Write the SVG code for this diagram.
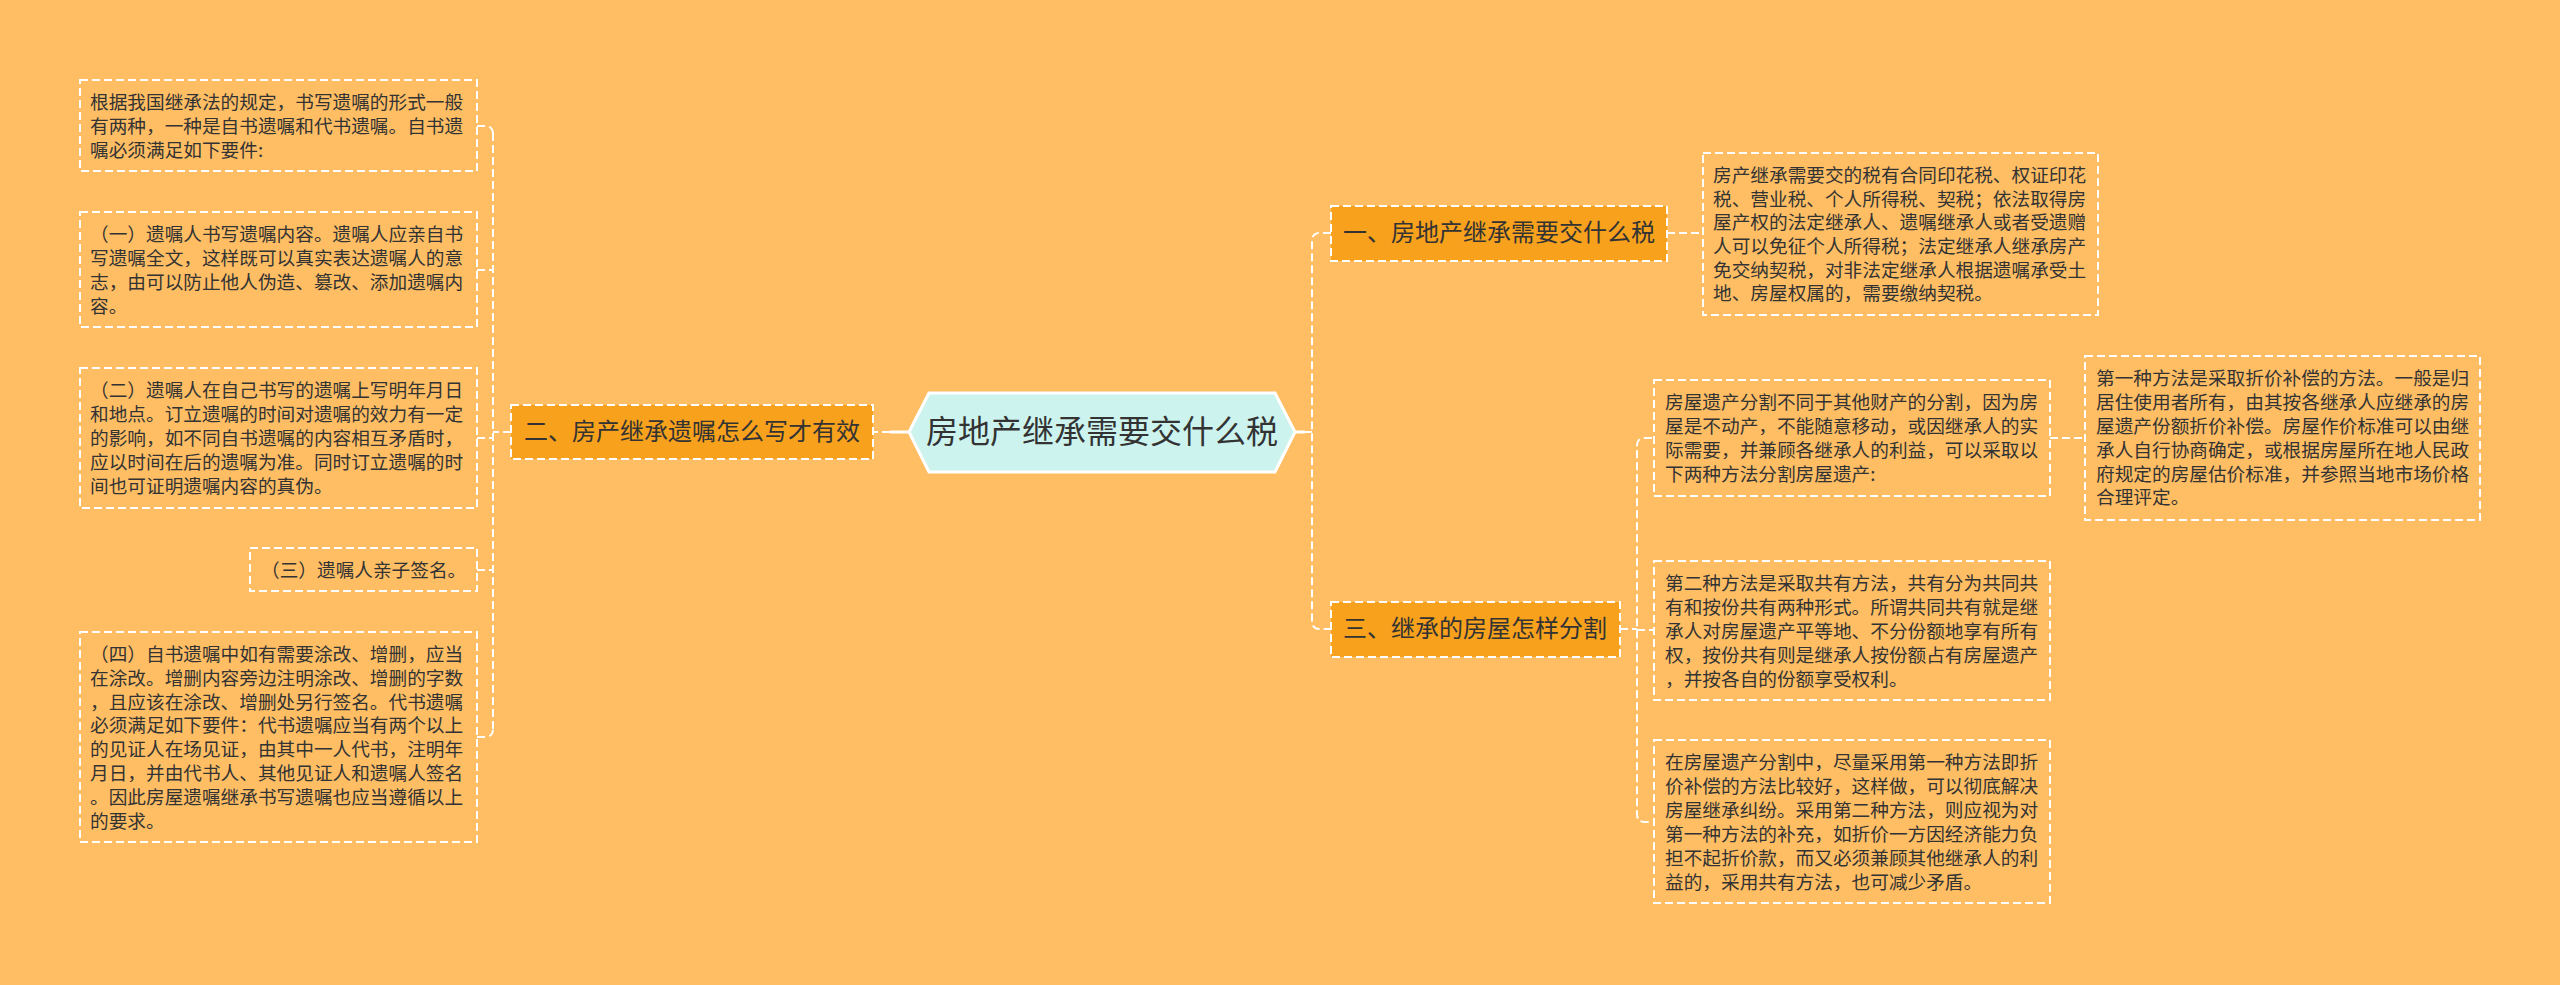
<svg xmlns="http://www.w3.org/2000/svg" width="2560" height="985" viewBox="0 0 2560 985">
<style>
.bg{fill:#FFBE64}
.leaf{fill:none;stroke:#FFFFFF;stroke-width:2;stroke-dasharray:8 4}
.lvl{fill:#F8A11C;stroke:#FFFFFF;stroke-width:2;stroke-dasharray:8 4}
.hex{fill:#CDF3EF;stroke:#FFFFFF;stroke-width:3}
.conn{fill:none;stroke:#FFFFFF;stroke-width:2;stroke-dasharray:8 4}
.solid{fill:none;stroke:#FFFFFF;stroke-width:3}
.t{font-family:"Noto Sans CJK SC","Microsoft YaHei",sans-serif;font-size:18.67px;fill:#333333}
.nt{font-family:"Noto Sans CJK SC","Microsoft YaHei",sans-serif;font-size:24px;fill:#333333;text-anchor:middle}
.ct{font-family:"Noto Sans CJK SC","Microsoft YaHei",sans-serif;font-size:32px;fill:#333333;text-anchor:middle}
</style>
<rect class="bg" x="0" y="0" width="2560" height="985"/>

<g id="connectors">
  <path class="solid" d="M909,432 H890"/>
  <path class="conn" d="M890,432 H873"/>
  <path class="conn" d="M511,432 H493"/>
  <path class="conn" d="M493,133 V729"/>
  <path class="conn" d="M477,126 H485 Q493,126 493,134"/>
  <path class="conn" d="M477,270 H493"/>
  <path class="conn" d="M477,438 H493"/>
  <path class="conn" d="M477,570 H493"/>
  <path class="conn" d="M477,737 H485 Q493,737 493,729"/>
  <path class="solid" d="M1295,432 H1305"/>
  <path class="conn" d="M1305,432 H1312"/>
  <path class="conn" d="M1331,233 H1320 Q1312,233 1312,241 V621 Q1312,629 1320,629 H1331"/>
  <path class="conn" d="M1667,233 H1703"/>
  <path class="conn" d="M1620,629 H1637"/>
  <path class="conn" d="M1652,438 H1645 Q1637,438 1637,446 V814 Q1637,822 1645,822 H1652"/>
  <path class="conn" d="M1637,630 H1654"/>
  <path class="conn" d="M2050,438 H2085"/>
</g>

<g id="center">
  <polygon class="hex" points="909,432 929,393 1275,393 1295,432 1275,472 929,472"/>
  <text class="ct" x="1102" y="443">房地产继承需要交什么税</text>
</g>

<g id="node-2">
  <rect class="lvl" x="511" y="405" width="362" height="54"/>
  <text class="nt" x="692" y="440">二、房产继承遗嘱怎么写才有效</text>
</g>

<g id="node-1">
  <rect class="lvl" x="1331" y="206" width="336" height="55"/>
  <text class="nt" x="1499" y="241">一、房地产继承需要交什么税</text>
</g>

<g id="node-3">
  <rect class="lvl" x="1331" y="602" width="289" height="55"/>
  <text class="nt" x="1475" y="637">三、继承的房屋怎样分割</text>
</g>

<g id="leaf-a">
  <rect class="leaf" x="80" y="80" width="397" height="91"/>
  <text class="t" x="90"><tspan x="90" y="109">根据我国继承法的规定，书写遗嘱的形式一般</tspan><tspan x="90" y="133">有两种，一种是自书遗嘱和代书遗嘱。自书遗</tspan><tspan x="90" y="157">嘱必须满足如下要件:</tspan></text>
</g>

<g id="leaf-b">
  <rect class="leaf" x="80" y="212" width="397" height="115"/>
  <text class="t"><tspan x="90" y="241">（一）遗嘱人书写遗嘱内容。遗嘱人应亲自书</tspan><tspan x="90" y="265">写遗嘱全文，这样既可以真实表达遗嘱人的意</tspan><tspan x="90" y="289">志，由可以防止他人伪造、篡改、添加遗嘱内</tspan><tspan x="90" y="313">容。</tspan></text>
</g>

<g id="leaf-c">
  <rect class="leaf" x="80" y="368" width="397" height="140"/>
  <text class="t"><tspan x="90" y="397">（二）遗嘱人在自己书写的遗嘱上写明年月日</tspan><tspan x="90" y="421">和地点。订立遗嘱的时间对遗嘱的效力有一定</tspan><tspan x="90" y="445">的影响，如不同自书遗嘱的内容相互矛盾时，</tspan><tspan x="90" y="469">应以时间在后的遗嘱为准。同时订立遗嘱的时</tspan><tspan x="90" y="493">间也可证明遗嘱内容的真伪。</tspan></text>
</g>

<g id="leaf-d">
  <rect class="leaf" x="250" y="548" width="227" height="43"/>
  <text class="t" x="261" y="577">（三）遗嘱人亲子签名。</text>
</g>

<g id="leaf-e">
  <rect class="leaf" x="80" y="632" width="397" height="210"/>
  <text class="t"><tspan x="90" y="661">（四）自书遗嘱中如有需要涂改、增删，应当</tspan><tspan x="90" y="685">在涂改。增删内容旁边注明涂改、增删的字数</tspan><tspan x="90" y="709">，且应该在涂改、增删处另行签名。代书遗嘱</tspan><tspan x="90" y="732">必须满足如下要件：代书遗嘱应当有两个以上</tspan><tspan x="90" y="756">的见证人在场见证，由其中一人代书，注明年</tspan><tspan x="90" y="780">月日，并由代书人、其他见证人和遗嘱人签名</tspan><tspan x="90" y="804">。因此房屋遗嘱继承书写遗嘱也应当遵循以上</tspan><tspan x="90" y="828">的要求。</tspan></text>
</g>

<g id="leaf-tax">
  <rect class="leaf" x="1703" y="153" width="395" height="162"/>
  <text class="t"><tspan x="1713" y="182">房产继承需要交的税有合同印花税、权证印花</tspan><tspan x="1713" y="206">税、营业税、个人所得税、契税；依法取得房</tspan><tspan x="1713" y="229">屋产权的法定继承人、遗嘱继承人或者受遗赠</tspan><tspan x="1713" y="253">人可以免征个人所得税；法定继承人继承房产</tspan><tspan x="1713" y="277">免交纳契税，对非法定继承人根据遗嘱承受土</tspan><tspan x="1713" y="300">地、房屋权属的，需要缴纳契税。</tspan></text>
</g>

<g id="leaf-split">
  <rect class="leaf" x="1654" y="380" width="396" height="116"/>
  <text class="t"><tspan x="1665" y="409">房屋遗产分割不同于其他财产的分割，因为房</tspan><tspan x="1665" y="433">屋是不动产，不能随意移动，或因继承人的实</tspan><tspan x="1665" y="457">际需要，并兼顾各继承人的利益，可以采取以</tspan><tspan x="1665" y="481">下两种方法分割房屋遗产:</tspan></text>
</g>

<g id="leaf-method1">
  <rect class="leaf" x="2085" y="356" width="395" height="164"/>
  <text class="t"><tspan x="2096" y="385">第一种方法是采取折价补偿的方法。一般是归</tspan><tspan x="2096" y="409">居住使用者所有，由其按各继承人应继承的房</tspan><tspan x="2096" y="433">屋遗产份额折价补偿。房屋作价标准可以由继</tspan><tspan x="2096" y="457">承人自行协商确定，或根据房屋所在地人民政</tspan><tspan x="2096" y="481">府规定的房屋估价标准，并参照当地市场价格</tspan><tspan x="2096" y="504">合理评定。</tspan></text>
</g>

<g id="leaf-method2">
  <rect class="leaf" x="1654" y="561" width="396" height="139"/>
  <text class="t"><tspan x="1665" y="590">第二种方法是采取共有方法，共有分为共同共</tspan><tspan x="1665" y="614">有和按份共有两种形式。所谓共同共有就是继</tspan><tspan x="1665" y="638">承人对房屋遗产平等地、不分份额地享有所有</tspan><tspan x="1665" y="662">权，按份共有则是继承人按份额占有房屋遗产</tspan><tspan x="1665" y="686">，并按各自的份额享受权利。</tspan></text>
</g>

<g id="leaf-advice">
  <rect class="leaf" x="1654" y="740" width="396" height="163"/>
  <text class="t"><tspan x="1665" y="769">在房屋遗产分割中，尽量采用第一种方法即折</tspan><tspan x="1665" y="793">价补偿的方法比较好，这样做，可以彻底解决</tspan><tspan x="1665" y="817">房屋继承纠纷。采用第二种方法，则应视为对</tspan><tspan x="1665" y="841">第一种方法的补充，如折价一方因经济能力负</tspan><tspan x="1665" y="865">担不起折价款，而又必须兼顾其他继承人的利</tspan><tspan x="1665" y="889">益的，采用共有方法，也可减少矛盾。</tspan></text>
</g>
</svg>
